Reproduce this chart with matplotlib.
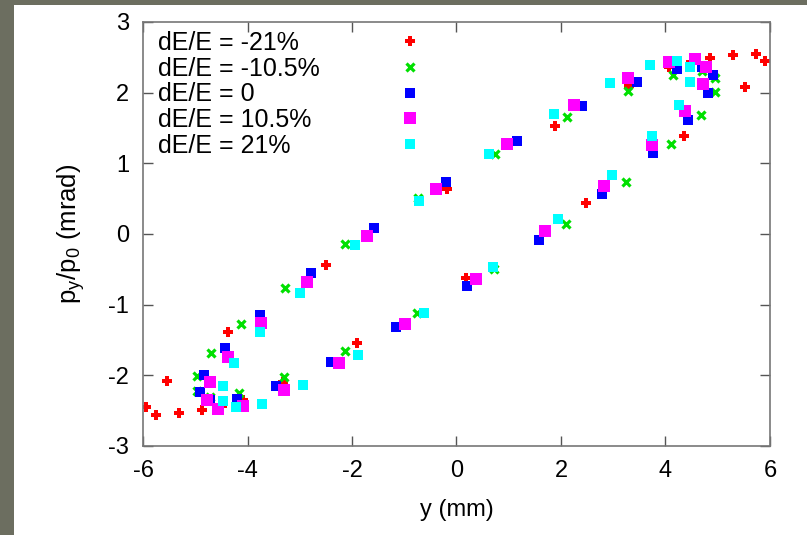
import matplotlib
matplotlib.use("Agg")
import matplotlib.pyplot as plt
from matplotlib.patches import Rectangle

plt.rcParams['font.family'] = ['Liberation Sans', 'DejaVu Sans']

# dE/E = -21%
red_x = [-5.94, -5.75, -5.31, -5.54, -4.87, -4.49, -4.38, -4.09, -3.33, -2.50, -1.91, -0.19,
         0.19, 1.89, 2.47, 3.31, 4.07, 4.36, 4.48, 4.86, 5.29, 5.52, 5.73, 5.90]
red_y = [-2.45, -2.56, -2.53, -2.08, -2.49, -2.44, -1.39, -2.35, -2.09, -0.44, -1.54, 0.63,
         -0.62, 1.53, 0.44, 2.10, 2.36, 1.39, 2.43, 2.49, 2.53, 2.08, 2.55, 2.45]

# dE/E = -10.5%
green_x = [-4.97, -4.97, -4.69, -4.71, -4.16, -4.13, -3.30, -3.28, -2.13, -2.13, -0.76, -0.74,
           0.72, 0.73, 2.10, 2.11, 3.25, 3.29, 4.11, 4.14, 4.67, 4.70, 4.94, 4.95]
green_y = [-2.01, -2.22, -1.69, -2.30, -2.25, -1.27, -2.03, -0.76, -1.65, -0.14, -1.12, 0.51,
           -0.50, 1.13, 0.14, 1.65, 0.74, 2.03, 1.27, 2.25, 1.69, 2.31, 2.01, 2.21]

# dE/E = 0
blue_x = [-4.83, -4.91, -4.44, -4.71, -4.21, -3.76, -3.46, -2.79, -2.41, -1.57, -1.15, -0.21,
          0.21, 1.15, 1.58, 2.41, 2.79, 3.46, 3.76, 4.22, 4.44, 4.70, 4.81, 4.90]
blue_y = [-2.00, -2.24, -1.62, -2.35, -2.33, -1.14, -2.15, -0.55, -1.81, 0.08, -1.32, 0.73,
          -0.73, 1.32, -0.09, 1.81, 0.56, 2.15, 1.14, 2.34, 1.62, 2.36, 2.00, 2.25]

# dE/E = 10.5%
mag_x = [-4.71, -4.78, -4.38, -4.57, -4.08, -3.75, -3.31, -2.86, -2.25, -1.71, -0.98, -0.39,
         0.37, 0.97, 1.70, 2.25, 2.83, 3.29, 3.75, 4.07, 4.38, 4.57, 4.71, 4.77]
mag_y = [-2.10, -2.35, -1.74, -2.47, -2.43, -1.26, -2.21, -0.68, -1.82, -0.03, -1.27, 0.64,
         -0.64, 1.28, 0.04, 1.82, 0.68, 2.21, 1.26, 2.43, 1.74, 2.48, 2.12, 2.36]

# dE/E = 21%
cyan_x = [-4.47, -4.46, -4.25, -4.22, -3.76, -3.72, -2.99, -2.93, -1.95, -1.89, -0.71, -0.63,
          0.62, 0.70, 1.86, 1.94, 2.93, 2.97, 3.70, 3.75, 4.22, 4.25, 4.47, 4.47]
cyan_y = [-2.15, -2.36, -1.82, -2.45, -1.38, -2.40, -0.83, -2.14, -0.15, -1.71, 0.46, -1.12,
          1.13, -0.46, 1.70, 0.21, 2.14, 0.84, 2.39, 1.39, 2.45, 1.82, 2.36, 2.15]

labels = ['dE/E = -21%', 'dE/E = -10.5%', 'dE/E = 0', 'dE/E = 10.5%', 'dE/E = 21%']
x_ticks = [-6, -4, -2, 0, 2, 4, 6]
y_ticks = [-3, -2, -1, 0, 1, 2, 3]

fig = plt.figure(figsize=(8.07, 5.35), dpi=100)
fig.patch.set_facecolor('white')

# slide border
border = '#6c6e60'
fig.patches.append(Rectangle((0, 0), 14 / 807, 1, transform=fig.transFigure,
                             facecolor=border, edgecolor='none', zorder=0))
fig.patches.append(Rectangle((0, 1 - 5 / 535), 1, 5 / 535, transform=fig.transFigure,
                             facecolor=border, edgecolor='none', zorder=0))

ax = fig.add_axes([143 / 807, 1 - 446 / 535, 627 / 807, 424 / 535])

h_red, = ax.plot(red_x, red_y, linestyle='none', marker='P', markersize=7.5, color='#ff0000',
                 markeredgewidth=0)
h_green, = ax.plot(green_x, green_y, linestyle='none', marker='x', markersize=6, color='#00e000',
                   markeredgewidth=2.3)
h_blue, = ax.plot(blue_x, blue_y, linestyle='none', marker='s', markersize=6.5, color='#0000ff',
                  markeredgewidth=0)
h_mag, = ax.plot(mag_x, mag_y, linestyle='none', marker='s', markersize=8.5, color='#ff00ff',
                 markeredgewidth=0)
h_cyan, = ax.plot(cyan_x, cyan_y, linestyle='none', marker='s', markersize=6.5, color='#00ffff',
                  markeredgewidth=0)
handles = [h_red, h_green, h_blue, h_mag, h_cyan]

ax.set_xlim(-6, 6)
ax.set_ylim(-3, 3)
ax.set_xticks(x_ticks)
ax.set_yticks(y_ticks)
ax.set_xticklabels([str(t) for t in x_ticks])
ax.set_yticklabels([str(t) for t in y_ticks])
ax.tick_params(direction='in', length=7, width=1, color='#555555', labelsize=17,
               top=True, right=True, pad=10)
for sp in ax.spines.values():
    sp.set_color('#777777')
    sp.set_linewidth(1.2)

ax.set_xlabel('y (mm)', fontsize=17, labelpad=12)
ax.set_ylabel(r'p$_\mathregular{y}$/p$_\mathregular{0}$ (mrad)', fontsize=18.5, labelpad=15)

# legend: markers in a column on the right (their texts hidden) ...
leg_kw = dict(loc='upper left', bbox_to_anchor=(0.024, 0.979), frameon=False, fontsize=18,
              labelspacing=0.07, borderaxespad=0, borderpad=0)
leg_marks = ax.legend(handles, labels, markerfirst=False, handlelength=1,
                      handletextpad=3.1, **leg_kw)
for t in leg_marks.get_texts():
    t.set_alpha(0)
ax.add_artist(leg_marks)
# ... and the texts left-aligned, gnuplot style
leg_text = ax.legend(handles, labels, handlelength=0, handletextpad=0, **leg_kw)
for h in leg_text.legend_handles:
    h.set_visible(False)

fig.savefig('out.png', dpi=100)
